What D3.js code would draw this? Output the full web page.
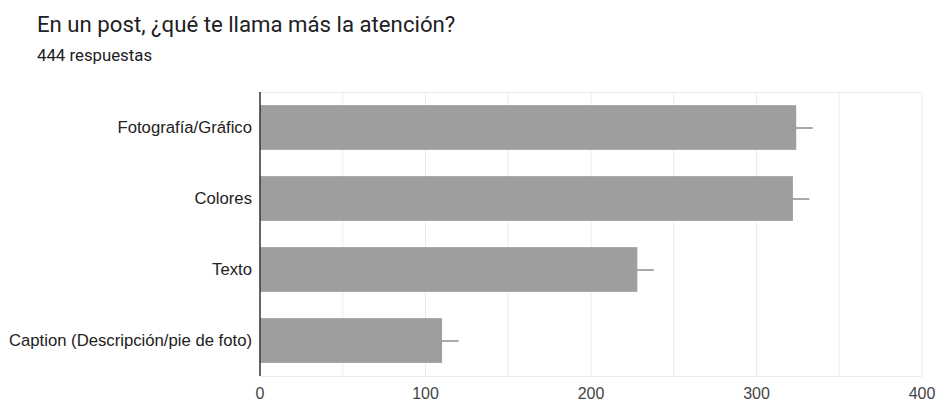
<!DOCTYPE html>
<html><head><meta charset="utf-8">
<script src="https://cdn.jsdelivr.net/npm/d3@7"></script>
<style>body{margin:0;background:#fff}svg{display:block}</style>
</head><body>
<svg id="c" width="937" height="401"></svg>
<script>
const categories = ["Fotografía/Gráfico", "Colores", "Texto", "Caption (Descripción/pie de foto)"];
const values = [324, 322, 228, 110];
const errors = [10, 10, 10, 10];
const xTicks = [0, 100, 200, 300, 400];
const gridValues = [50, 100, 150, 200, 250, 300, 350, 400];
const title = "En un post, ¿qué te llama más la atención?";
const subtitle = "444 respuestas";

const svg = d3.select("#c");
const m = {left: 260, right: 922, top: 92, bottom: 376};
const x = d3.scaleLinear().domain([0, 400]).range([m.left, m.right]);
const y = d3.scaleBand().domain(categories).range([m.top, m.bottom]).paddingInner(0.37).paddingOuter(0.185);

svg.append("text").attr("x", 37).attr("y", 31.5).attr("font-family", "Roboto, Arial, sans-serif")
  .attr("font-size", 22.2).attr("fill", "#202124").text(title);
svg.append("text").attr("x", 37).attr("y", 60.5).attr("font-family", "Roboto, Arial, sans-serif")
  .attr("font-size", 16.8).attr("fill", "#202124").text(subtitle);

// grid
svg.append("g").selectAll("line").data(gridValues).join("line")
  .attr("x1", d => x(d)).attr("x2", d => x(d)).attr("y1", m.top).attr("y2", m.bottom)
  .attr("stroke", "#ebebeb").attr("stroke-width", 1);
svg.append("line").attr("x1", m.left).attr("x2", m.right).attr("y1", m.top + 0.5).attr("y2", m.top + 0.5).attr("stroke", "#ebebeb");
svg.append("line").attr("x1", m.left).attr("x2", m.right).attr("y1", m.bottom + 0.5).attr("y2", m.bottom + 0.5).attr("stroke", "#ebebeb");

// error bars
svg.append("g").selectAll("line").data(values).join("line")
  .attr("x1", (d, i) => x(d - errors[i])).attr("x2", (d, i) => x(d + errors[i]))
  .attr("y1", (d, i) => y(categories[i]) + y.bandwidth() / 2 + 0.5)
  .attr("y2", (d, i) => y(categories[i]) + y.bandwidth() / 2 + 0.5)
  .attr("stroke", "#a9a9a9").attr("stroke-width", 2);

// bars
svg.append("g").selectAll("rect").data(values).join("rect")
  .attr("x", x(0)).attr("y", (d, i) => y(categories[i]))
  .attr("width", d => x(d) - x(0)).attr("height", y.bandwidth())
  .attr("fill", "#9e9e9e");

// axis line
svg.append("line").attr("x1", x(0)).attr("x2", x(0)).attr("y1", m.top).attr("y2", m.bottom)
  .attr("stroke", "#333").attr("stroke-width", 1.5);

// category labels
svg.append("g").selectAll("text").data(categories).join("text")
  .attr("x", 252).attr("y", d => y(d) + y.bandwidth() / 2)
  .attr("dy", "0.35em").attr("text-anchor", "end")
  .attr("font-family", "Arial, 'Liberation Sans', sans-serif").attr("font-size", 16.7)
  .attr("fill", "#222").text(d => d);

// x tick labels
svg.append("g").selectAll("text").data(xTicks).join("text")
  .attr("x", d => x(d)).attr("y", 393).attr("dy", "0.35em").attr("text-anchor", "middle")
  .attr("font-family", "Arial, 'Liberation Sans', sans-serif").attr("font-size", 16)
  .attr("fill", "#444").text(d => d);
</script>
</body></html>
